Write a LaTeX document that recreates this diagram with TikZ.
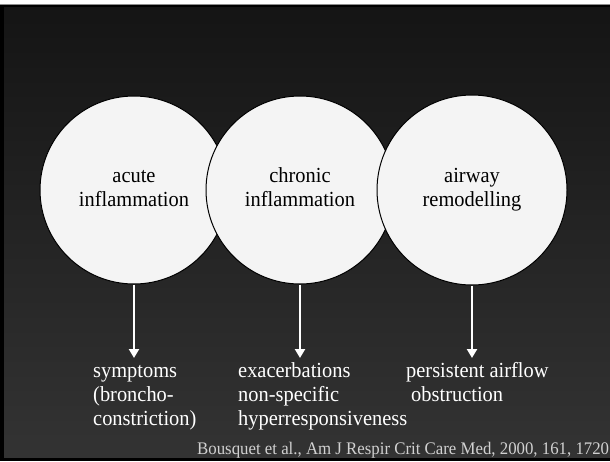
\documentclass[tikz,border=0pt]{standalone}
\usepackage{fontspec}
\setmainfont{Liberation Serif}[FakeStretch=0.95]
\usetikzlibrary{arrows.meta}
\definecolor{bgtop}{gray}{0.08}
\definecolor{bgbot}{gray}{0.20}
\definecolor{disc}{gray}{0.955}
\definecolor{citegray}{gray}{0.82}
\definecolor{rimgray}{gray}{0.55}
\begin{document}
\begin{tikzpicture}[x=1pt,y=-1pt,
  disk/.style={circle, draw=black, line width=1pt, fill=disc, minimum size=188pt,
    inner sep=0pt, align=center, font=\fontsize{21.5}{24}\selectfont},
  lbl/.style={anchor=base west, inner sep=0pt, text=white, font=\fontsize{21.5}{24}\selectfont},
  citestyle/.style={anchor=base west, inner sep=0pt, text=citegray, font=\fontsize{17.7}{20}\selectfont},
  arr/.style={draw=white, line width=2.6pt, -{Triangle[width=10pt,length=9pt]}}]
\useasboundingbox (0,0) rectangle (610,461);
\fill[white] (0,0) rectangle (610,461);
\fill[black] (0,4) rectangle (610,461);
\draw[rimgray, line width=1pt] (0,4.5) -- (610,4.5);
\shade[top color=bgtop, bottom color=bgbot] (4,7) rectangle (610,457);
% circles
\node[disk] (c1) at (134,190) {\strut acute\\\strut inflammation};
\node[disk] (c2) at (300,190) {\strut chronic\\\strut inflammation};
\node[disk, minimum size=190pt] (c3) at (472,190) {\strut airway\\\strut remodelling};
% arrow tips
\coordinate (t1) at (134,358);
\coordinate (t2) at (300,358);
\coordinate (t3) at (472,358);
\draw[arr] (c1) -- (t1);
\draw[arr] (c2) -- (t2);
\draw[arr] (c3) -- (t3);
% labels
\node[lbl] (s1) at (93,377) {symptoms};
\node[lbl] (s2) at (93,401) {(broncho-};
\node[lbl] (s3) at (93,425) {constriction)};
\node[lbl] (e1) at (238,377) {exacerbations};
\node[lbl] (e2) at (238,401) {non-specific};
\node[lbl] (e3) at (238,425) {hyperresponsiveness};
\node[lbl] (p1) at (406,377) {persistent airflow};
\node[lbl] (p2) at (411,401) {obstruction};
\node[citestyle] (cite) at (197,454) {Bousquet et al., Am J Respir Crit Care Med, 2000, 161, 1720};
\end{tikzpicture}
\end{document}
